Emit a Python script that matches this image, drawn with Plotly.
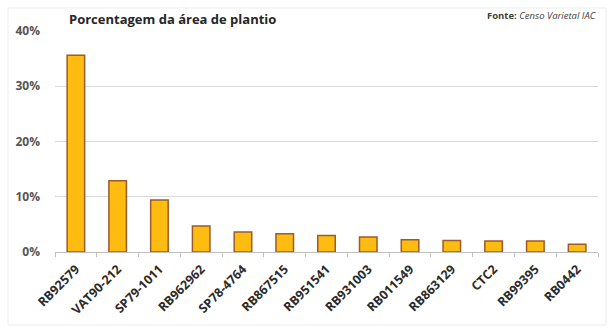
import plotly.graph_objects as go

# Sugarcane varieties and their share of planted area
variedades = ["RB92579", "VAT90-212", "SP79-1011", "RB962962", "SP78-4764",
              "RB867515", "RB951541", "RB931003", "RB011549", "RB863129",
              "CTC2", "RB99395", "RB0442"]
area = [0.356, 0.129, 0.094, 0.047, 0.036, 0.033, 0.030, 0.027, 0.022, 0.021,
        0.020, 0.020, 0.014]
y_ticks = [0, 0.1, 0.2, 0.3, 0.4]
y_tick_labels = ["0%", "10%", "20%", "30%", "40%"]

W, H = 609, 328
L, R, T, B = 55, 11, 31, 76
PW, PH = W - L - R, H - T - B

fig = go.Figure()
fig.add_trace(go.Bar(
    x=variedades, y=area,
    marker=dict(color="#FDBC0F", line=dict(color="#9A5B2E", width=1.5)),
    width=0.42,
    hoverinfo="x+y",
))

fig.update_layout(
    width=W, height=H,
    margin=dict(l=L, r=R, t=T, b=B),
    paper_bgcolor="white", plot_bgcolor="white",
    showlegend=False,
    font=dict(family="Open Sans, Liberation Sans, sans-serif", color="#404040"),
    xaxis=dict(
        type="category", tickangle=-45,
        tickfont=dict(size=12.5, color="#2B2B2B", family="Open Sans, sans-serif",
                      weight="bold"),
        ticklabelstandoff=4,
        showgrid=False, showline=True, linecolor="#BFBFBF", linewidth=1,
        ticks="outside", tickson="boundaries", ticklen=4, tickcolor="#BFBFBF",
        zeroline=False,
    ),
    yaxis=dict(
        range=[0, 0.4], tickvals=y_ticks, ticktext=y_tick_labels,
        tickfont=dict(size=12, color="#555555", weight="bold"),
        ticklabelstandoff=14,
        showgrid=True, gridcolor="#D9D9D9", gridwidth=1,
        zeroline=False, showline=False, ticks="", ticklen=0,
    ),
    annotations=[
        dict(text="<b>Porcentagem da área de plantio</b>", xref="paper", yref="paper",
             x=(67 - L) / PW, y=1, xanchor="left", yanchor="bottom",
             yshift=1, showarrow=False,
             font=dict(size=13, color="#262626", family="Open Sans, sans-serif")),
        dict(text="<b>Fonte:</b> <i>Censo Varietal IAC</i>", xref="paper", yref="paper",
             x=1, y=1, xanchor="right", yanchor="bottom", yshift=7, showarrow=False,
             font=dict(size=9.5, color="#404040", family="Open Sans, sans-serif")),
    ],
    shapes=[
        dict(type="rect", xref="paper", yref="paper",
             x0=-(L - 8) / PW, x1=1 + (R - 3) / PW,
             y0=-(B - 3) / PH, y1=1 + (T - 8) / PH,
             line=dict(color="#EDEDED", width=1), layer="below"),
    ],
)

fig.write_html("out.html")
